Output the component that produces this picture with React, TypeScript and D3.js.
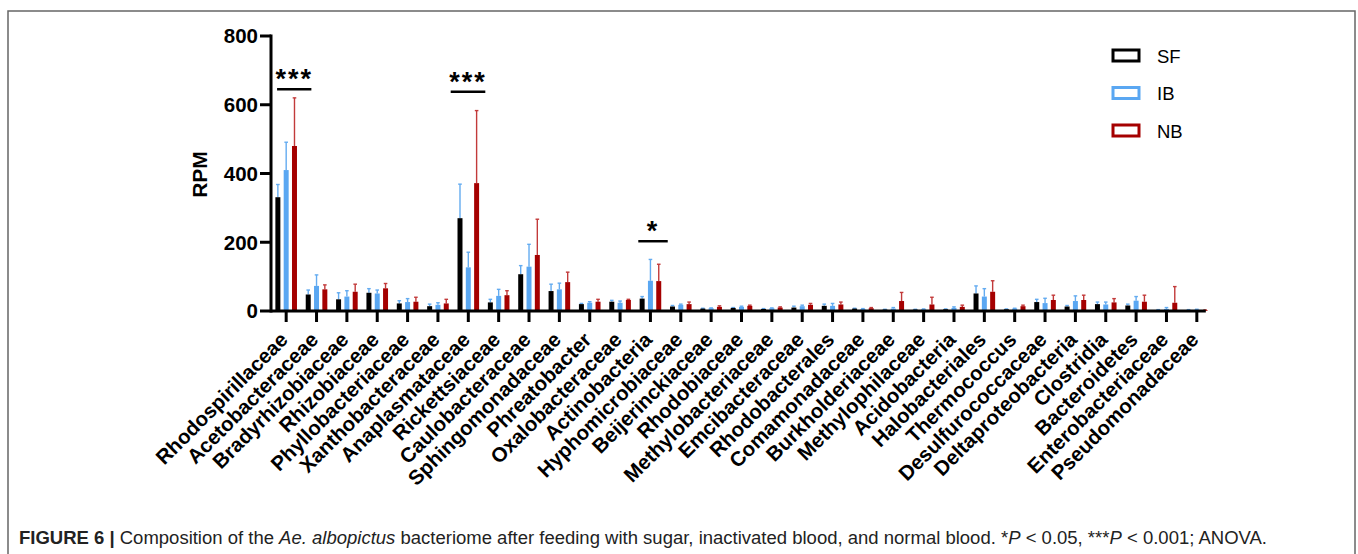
import React, { useRef, useEffect } from "react";
import * as d3 from "d3";

// categories along the x axis
const categories = [
  "Rhodospirillaceae", "Acetobacteraceae", "Bradyrhizobiaceae", "Rhizobiaceae",
  "Phyllobacteriaceae", "Xanthobacteraceae", "Anaplasmataceae", "Rickettsiaceae",
  "Caulobacteraceae", "Sphingomonadaceae", "Phreatobacter", "Oxalobacteraceae",
  "Actinobacteria", "Hyphomicrobiaceae", "Beijerinckiaceae", "Rhodobiaceae",
  "Methylobacteriaceae", "Emcibacteraceae", "Rhodobacterales", "Comamonadaceae",
  "Burkholderiaceae", "Methylophilaceae", "Acidobacteria", "Halobacteriales",
  "Thermococcus", "Desulfurococcaceae", "Deltaproteobacteria", "Clostridia",
  "Bacteroidetes", "Enterobacteriaceae", "Pseudomonadaceae",
];

const seriesNames = ["SF", "IB", "NB"];

// mean RPM per group
const sfValues = [331, 48, 34, 53, 22, 14, 270, 25, 107, 58, 20, 27, 36, 13, 7, 9, 6, 10, 15, 7, 4, 4, 5, 51, 5, 26, 13, 20, 16, 3, 3];
const ibValues = [410, 73, 42, 51, 26, 18, 127, 44, 129, 63, 24, 24, 88, 18, 8, 12, 8, 14, 15, 6, 7, 5, 9, 42, 7, 23, 29, 19, 30, 6, 4];
const nbValues = [480, 63, 56, 66, 27, 22, 372, 46, 163, 84, 27, 32, 87, 20, 12, 15, 10, 18, 19, 8, 29, 19, 12, 56, 14, 32, 32, 25, 27, 24, 2];

// upper error (SD)
const sfErrors = [37, 13, 19, 12, 8, 6, 99, 9, 25, 20, 2, 4, 6, 3, 1, 1, 1, 4, 5, 1, 1, 1, 1, 22, 1, 8, 3, 6, 4, 1, 1];
const ibErrors = [81, 32, 17, 10, 10, 6, 44, 19, 65, 18, 3, 5, 62, 2, 1, 2, 1, 3, 7, 1, 3, 1, 3, 23, 1, 14, 15, 7, 12, 4, 1];
const nbErrors = [140, 13, 22, 14, 13, 12, 211, 13, 104, 29, 7, 2, 49, 6, 3, 2, 2, 4, 7, 2, 25, 21, 5, 32, 3, 14, 14, 11, 19, 47, 1];

const yTicks = [0, 200, 400, 600, 800];

// significance marks: category, label, bracket height (RPM), extent as fraction of a band
const sigCats = ["Rhodospirillaceae", "Anaplasmataceae", "Actinobacteria"];
const sigLabels = ["***", "***", "*"];
const sigLevels = [645, 638, 203];
const sigFrom = [-0.3, -0.58, -0.4];
const sigTo = [0.83, 0.56, 0.57];

const barColors = ["#000000", "#5aa7f2", "#a50000"];
const errColors = ["#63abf0", "#63abf0", "#c23a3a"];
const FONT = "'Liberation Sans', Arial, Helvetica, sans-serif";

const W = 1358;
const H = 554;

const Chart: React.FC = () => {
  const ref = useRef<SVGSVGElement | null>(null);

  useEffect(() => {
    const svg = d3.select(ref.current);
    svg.selectAll("*").remove();

    const values = [sfValues, ibValues, nbValues];
    const errors = [sfErrors, ibErrors, nbErrors];

    const x = d3.scaleBand<string>().domain(categories).range([271, 1212]).padding(0);
    const sub = d3.scaleBand<string>().domain(seriesNames).range([-10.8, 10.8]).paddingInner(0.4);
    const y = d3.scaleLinear().domain([0, 800]).range([311, 36]);
    const cx = (c: string) => (x(c) as number) + x.bandwidth() / 2;

    // outer frame
    svg.append("rect")
      .attr("x", 8).attr("y", 11).attr("width", 1347).attr("height", 600)
      .attr("fill", "none").attr("stroke", "#666").attr("stroke-width", 1.5);

    const g = svg.append("g");

    // bars + error bars
    seriesNames.forEach((s, si) => {
      const rows = categories.map((c, i) => ({ c, v: values[si][i], e: errors[si][i] }));
      const off = sub(s) as number;
      const bw = sub.bandwidth();

      g.selectAll(`line.err-${s}`)
        .data(rows)
        .enter()
        .append("line")
        .attr("x1", (d) => cx(d.c) + off + bw / 2)
        .attr("x2", (d) => cx(d.c) + off + bw / 2)
        .attr("y1", (d) => y(d.v))
        .attr("y2", (d) => y(d.v + d.e))
        .attr("stroke", errColors[si])
        .attr("stroke-width", 1.4);

      g.selectAll(`line.cap-${s}`)
        .data(rows)
        .enter()
        .append("line")
        .attr("x1", (d) => cx(d.c) + off + bw / 2 - 1.8)
        .attr("x2", (d) => cx(d.c) + off + bw / 2 + 1.8)
        .attr("y1", (d) => y(d.v + d.e))
        .attr("y2", (d) => y(d.v + d.e))
        .attr("stroke", errColors[si])
        .attr("stroke-width", 1.4);

      g.selectAll(`rect.bar-${s}`)
        .data(rows)
        .enter()
        .append("rect")
        .attr("x", (d) => cx(d.c) + off)
        .attr("width", bw)
        .attr("y", (d) => y(d.v))
        .attr("height", (d) => y(0) - y(d.v))
        .attr("fill", barColors[si]);
    });

    // y axis
    const axisY = svg.append("g").attr("transform", "translate(271,0)");
    axisY.append("line")
      .attr("x1", 0).attr("x2", 0).attr("y1", y(800) - 1.5).attr("y2", y(0) + 1.5)
      .attr("stroke", "#000").attr("stroke-width", 3);
    const yt = axisY.selectAll("g.tick").data(yTicks).enter().append("g")
      .attr("transform", (d) => `translate(0,${y(d)})`);
    yt.append("line").attr("x1", -11).attr("x2", 0).attr("stroke", "#000").attr("stroke-width", 3);
    yt.append("text")
      .attr("x", -13).attr("dy", "0.36em")
      .attr("text-anchor", "end")
      .attr("font-family", FONT).attr("font-weight", "bold").attr("font-size", 20.5)
      .text((d) => d);

    svg.append("text")
      .attr("transform", `translate(207,${(y(800) + y(0)) / 2 + 1}) rotate(-90)`)
      .attr("text-anchor", "middle")
      .attr("font-family", FONT).attr("font-weight", "bold").attr("font-size", 21)
      .text("RPM");

    // x axis
    const axisX = svg.append("g");
    axisX.append("line")
      .attr("x1", 271).attr("x2", cx(categories[categories.length - 1]) + 9)
      .attr("y1", y(0)).attr("y2", y(0))
      .attr("stroke", "#000").attr("stroke-width", 3);
    const xt = axisX.selectAll("g.tick").data(categories).enter().append("g")
      .attr("transform", (d) => `translate(${cx(d)},${y(0)})`);
    xt.append("line").attr("y1", 0).attr("y2", 11).attr("stroke", "#000").attr("stroke-width", 3);
    xt.append("text")
      .attr("transform", "translate(3,30) rotate(-45)")
      .attr("text-anchor", "end")
      .attr("font-family", FONT).attr("font-weight", "bold").attr("font-size", 20.5)
      .text((d) => d);

    // significance brackets
    sigCats.forEach((c, i) => {
      const x1 = cx(c) + sigFrom[i] * x.step();
      const x2 = cx(c) + sigTo[i] * x.step();
      svg.append("line")
        .attr("x1", x1).attr("x2", x2)
        .attr("y1", y(sigLevels[i])).attr("y2", y(sigLevels[i]))
        .attr("stroke", "#000").attr("stroke-width", 2.5);
      svg.append("text")
        .attr("x", (x1 + x2) / 2).attr("y", y(sigLevels[i]) - 1)
        .attr("text-anchor", "middle")
        .attr("font-family", FONT).attr("font-weight", "bold").attr("font-size", 27)
        .attr("letter-spacing", 2)
        .text(sigLabels[i]);
    });

    // legend
    const leg = svg.append("g").attr("transform", "translate(1113,50)");
    seriesNames.forEach((s, i) => {
      const row = leg.append("g").attr("transform", `translate(0,${i * 37.5})`);
      row.append("rect")
        .attr("x", 0).attr("y", 0).attr("width", 26).attr("height", 11)
        .attr("fill", "none").attr("stroke", barColors[i]).attr("stroke-width", 3);
      row.append("text")
        .attr("x", 44).attr("y", 12.5)
        .attr("font-family", FONT).attr("font-size", 18.5)
        .text(s);
    });

    // caption
    const cap = svg.append("text")
      .attr("x", 19).attr("y", 544)
      .attr("font-family", FONT).attr("font-size", 17.5).attr("fill", "#222")
      .attr("textLength", 1248).attr("lengthAdjust", "spacingAndGlyphs");
    cap.append("tspan").attr("font-weight", "bold").text("FIGURE 6 | ");
    cap.append("tspan").text("Composition of the ");
    cap.append("tspan").attr("font-style", "italic").text("Ae. albopictus");
    cap.append("tspan").text(" bacteriome after feeding with sugar, inactivated blood, and normal blood. *");
    cap.append("tspan").attr("font-style", "italic").text("P");
    cap.append("tspan").text(" < 0.05, ***");
    cap.append("tspan").attr("font-style", "italic").text("P");
    cap.append("tspan").text(" < 0.001; ANOVA.");
  }, []);

  return (
    <svg
      ref={ref}
      width={W}
      height={H}
      style={{ position: "absolute", left: 0, top: 0, background: "#fff" }}
    />
  );
};

export default function App() {
  return <Chart />;
}
